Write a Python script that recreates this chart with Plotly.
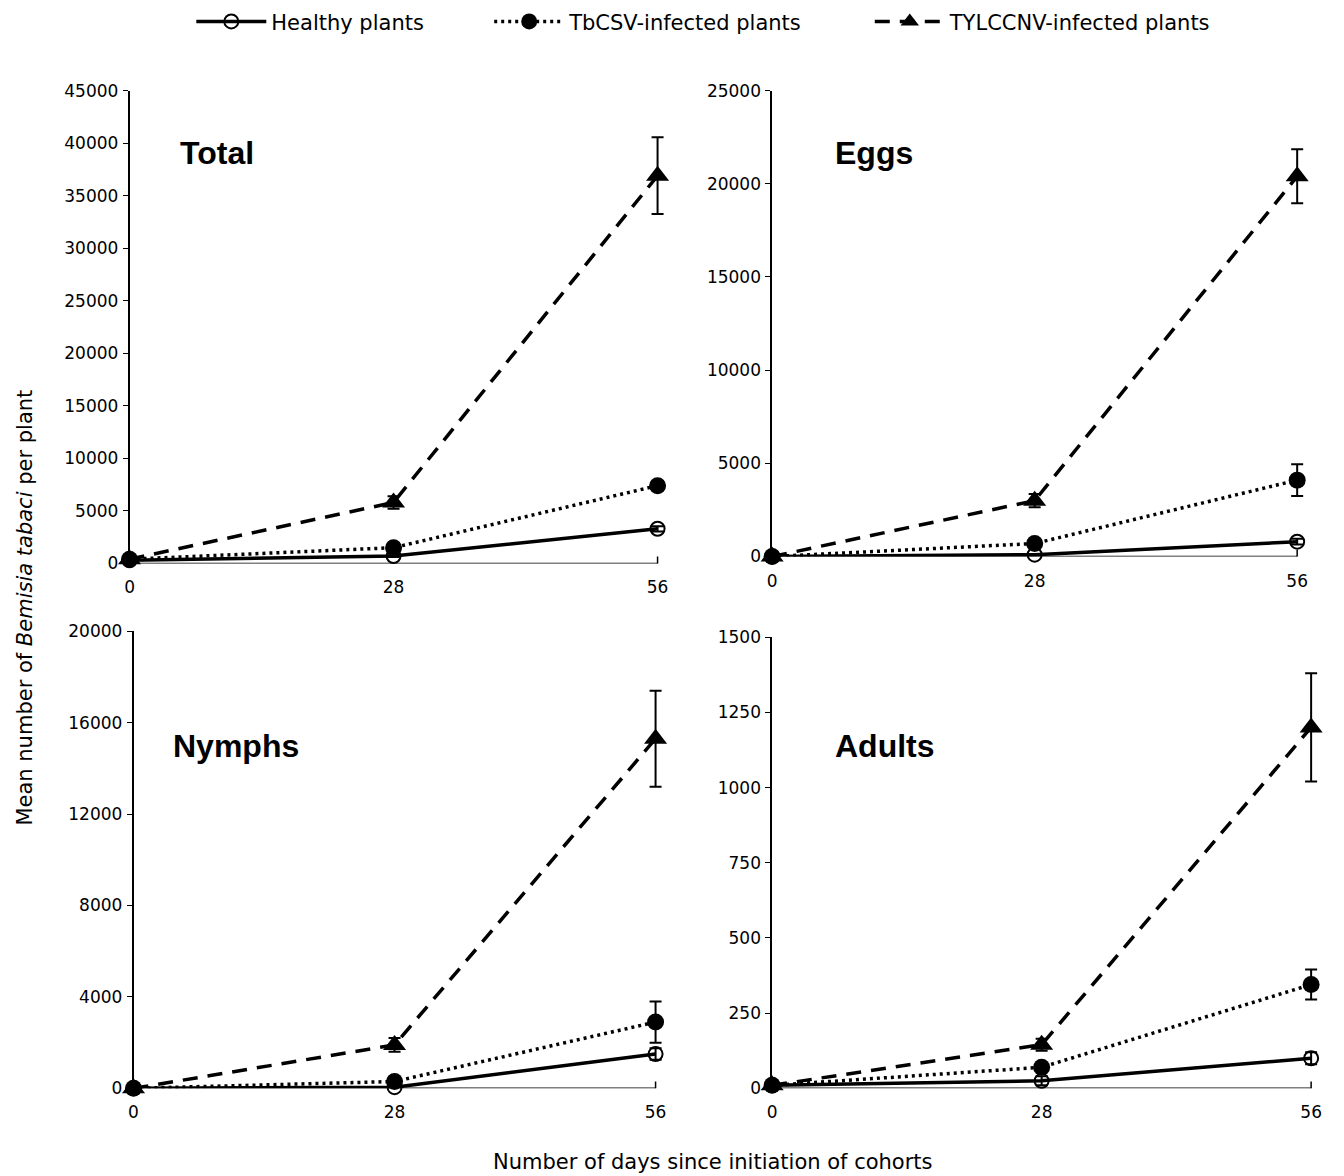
import plotly.graph_objects as go

W, H = 1344, 1176

days = [0, 28, 56]
series_names = ["Healthy plants", "TbCSV-infected plants", "TYLCCNV-infected plants"]

# Total
total_healthy = [300, 700, 3300]
total_healthy_err = [0, 80, 250]
total_tbcsv = [400, 1500, 7400]
total_tbcsv_err = [0, 200, 400]
total_tylccnv = [400, 5800, 36900]
total_tylccnv_err = [0, 600, 3650]

# Eggs
eggs_healthy = [0, 100, 800]
eggs_healthy_err = [0, 30, 150]
eggs_tbcsv = [0, 700, 4100]
eggs_tbcsv_err = [0, 100, 850]
eggs_tylccnv = [0, 3000, 20400]
eggs_tylccnv_err = [0, 350, 1450]

# Nymphs
nymphs_healthy = [0, 50, 1500]
nymphs_healthy_err = [0, 20, 250]
nymphs_tbcsv = [0, 300, 2900]
nymphs_tbcsv_err = [0, 60, 900]
nymphs_tylccnv = [0, 1900, 15300]
nymphs_tylccnv_err = [0, 300, 2100]

# Adults
adults_healthy = [10, 25, 100]
adults_healthy_err = [0, 15, 20]
adults_tbcsv = [10, 70, 345]
adults_tbcsv_err = [0, 10, 50]
adults_tylccnv = [10, 145, 1200]
adults_tylccnv_err = [0, 20, 180]

panel_titles = ["Total", "Eggs", "Nymphs", "Adults"]
y_ranges = [(0, 45000, 5000), (0, 25000, 5000), (0, 20000, 4000), (0, 1500, 250)]
x_tick_labels = ["0", "28", "56"]

panels = [
    [(total_healthy, total_healthy_err), (total_tbcsv, total_tbcsv_err), (total_tylccnv, total_tylccnv_err)],
    [(eggs_healthy, eggs_healthy_err), (eggs_tbcsv, eggs_tbcsv_err), (eggs_tylccnv, eggs_tylccnv_err)],
    [(nymphs_healthy, nymphs_healthy_err), (nymphs_tbcsv, nymphs_tbcsv_err), (nymphs_tylccnv, nymphs_tylccnv_err)],
    [(adults_healthy, adults_healthy_err), (adults_tbcsv, adults_tbcsv_err), (adults_tylccnv, adults_tylccnv_err)],
]

# pixel layout of each plot area: (x at day 0, x at day 56, ytop, ybottom)
px_boxes = [(125, 655, 82, 563), (770, 1297, 82, 556), (129, 653, 632, 1097), (770, 1311, 638, 1097)]
label_pos = [(174, 145), (831, 145), (167, 749), (831, 749)]
XMAX = 58.0  # axis range extends beyond day 56 so error-bar caps are not clipped

styles = [
    dict(line=dict(color="black", width=3.5, dash="solid"),
         marker=dict(symbol="circle-open", size=14, color="black", line=dict(width=2, color="black"))),
    dict(line=dict(color="black", width=3.5, dash="3px,4px"),
         marker=dict(symbol="circle", size=17, color="black")),
    dict(line=dict(color="black", width=3.5, dash="15px,10px"),
         marker=dict(symbol="triangle-up", size=20, color="black")),
]
legend_ids = ["legend", "legend2", "legend3"]

FONT = "DejaVu Sans"
fig = go.Figure()

for i, series in enumerate(panels):
    ax = "" if i == 0 else str(i + 1)
    for j, (vals, errs) in enumerate(series):
        fig.add_trace(go.Scatter(
            x=days, y=vals, mode="lines+markers", name=series_names[j],
            xaxis="x" + ax, yaxis="y" + ax,
            line=styles[j]["line"], marker=styles[j]["marker"],
            error_y=dict(type="data", array=errs, visible=True, color="black", thickness=2, width=6),
            cliponaxis=False,
            showlegend=(i == 0), legend=legend_ids[j],
        ))
    x0, x56, yt, yb = px_boxes[i]
    x1 = min(W, x0 + (x56 - x0) * XMAX / 56.0)
    xmax_i = (x1 - x0) / (x56 - x0) * 56.0
    lo, hi, dt = y_ranges[i]
    xd = [x0 / W, x1 / W]
    yd = [1 - yb / H, 1 - yt / H]
    fig.update_layout(**{
        "xaxis" + ax: dict(domain=xd, range=[0, xmax_i], tickvals=days, ticktext=x_tick_labels,
                           showline=False, ticks="", showgrid=False, zeroline=False,
                           anchor="y" + ax, ticklabelstandoff=12,
                           tickfont=dict(family=FONT, size=17, color="black")),
        "yaxis" + ax: dict(domain=yd, range=[lo, hi], tick0=0, dtick=dt, tickformat="d",
                           showline=True, linecolor="black", linewidth=1.5, ticks="outside",
                           ticklen=5, tickcolor="black", showgrid=False, zeroline=False,
                           anchor="x" + ax, ticklabelstandoff=1,
                           tickfont=dict(family=FONT, size=17, color="black")),
    })
    xr, yr = "x" + ax, "y" + ax
    # x-axis baseline from day 0 to day 56, with an upward tick at 56
    fig.add_shape(type="line", xref=xr, yref=yr, x0=days[0], x1=days[-1], y0=0, y1=0,
                  line=dict(color="black", width=1.5), layer="below")
    fig.add_shape(type="line", xref=xr, yref="paper", x0=days[-1], x1=days[-1],
                  y0=1 - yb / H, y1=1 - (yb - 7) / H, line=dict(color="black", width=1.5), layer="below")
    lx, ly = label_pos[i]
    fig.add_annotation(x=lx / W, y=1 - ly / H, xref="paper", yref="paper", text=panel_titles[i],
                       showarrow=False, xanchor="left", yanchor="middle",
                       font=dict(family="Liberation Sans", size=32, color="black", weight="bold"))

fig.add_annotation(x=20 / W, y=1 - 608 / H, xref="paper", yref="paper",
                   text="Mean number of <i>Bemisia tabaci</i> per plant", textangle=-90,
                   showarrow=False, xanchor="center", yanchor="middle",
                   font=dict(family=FONT, size=21, color="black"))
fig.add_annotation(x=711 / W, y=1 - 1172 / H, xref="paper", yref="paper",
                   text="Number of days since initiation of cohorts",
                   showarrow=False, xanchor="center", yanchor="middle",
                   font=dict(family=FONT, size=21, color="black"))

legend_x = [187, 486, 868]
common_leg = dict(orientation="h", xanchor="left", yanchor="middle", y=1 - 12 / H,
                  bgcolor="rgba(0,0,0,0)", itemwidth=70,
                  font=dict(family=FONT, size=21, color="black"))
fig.update_layout(
    width=W, height=H, margin=dict(l=0, r=0, t=0, b=0),
    paper_bgcolor="white", plot_bgcolor="white",
    legend=dict(x=legend_x[0] / W, **common_leg),
    legend2=dict(x=legend_x[1] / W, **common_leg),
    legend3=dict(x=legend_x[2] / W, **common_leg),
)

fig.write_html("out.html", config={"displayModeBar": False},
               post_script="document.body.style.margin='0';")
